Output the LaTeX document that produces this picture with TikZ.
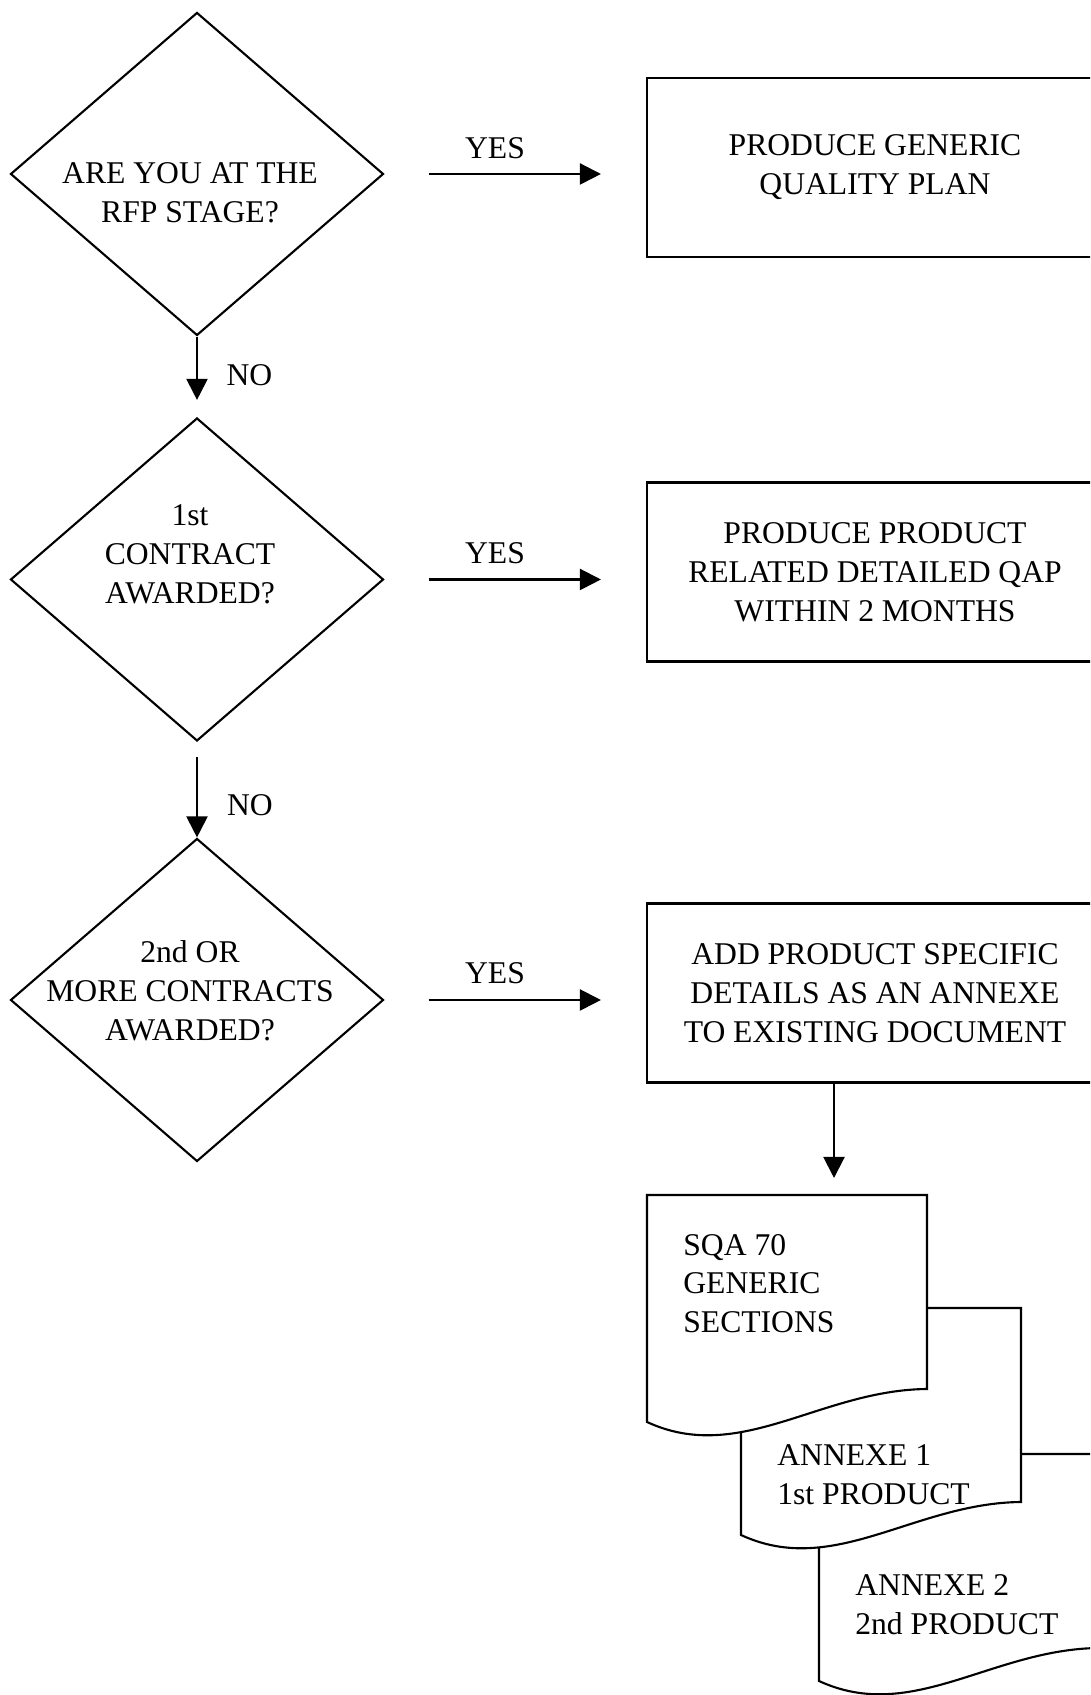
\documentclass[tikz,border=0pt]{standalone}
\usepackage{fontspec}
\setmainfont{Liberation Serif}
\usetikzlibrary{shapes.geometric,arrows.meta,calc}

\begin{document}
\begin{tikzpicture}[
  every node/.style={font=\fontsize{18}{22.1}\selectfont,inner sep=0pt},
  decision/.style={diamond,draw,line width=1.2pt,minimum width=7.46cm,minimum height=6.46cm,inner sep=0pt},
  action/.style={rectangle,draw,line width=1.2pt,minimum width=9.12cm,minimum height=3.58cm,align=center},
  txt/.style={align=center},
  doc/.style={draw,fill=white,line width=1.2pt},
  flow/.style={line width=1.2pt,-{Triangle[length=12pt,width=12pt]}}
]
\useasboundingbox (0,0) rectangle (21.8,33.9);
\clip (0,0) rectangle (21.8,33.9);

% ------------------------------------------------------------
% Decisions on the left (text set a little off centre)
% ------------------------------------------------------------
\node[decision] (rfp) at (3.94,30.42) {};
\node[txt] (rfptext) at (3.80,30.04) {ARE YOU AT THE\\RFP STAGE?};

\node[decision] (first) at (3.94,22.31) {};
\node[txt] (firsttext) at (3.80,22.82) {1st\\CONTRACT\\AWARDED?};

\node[decision] (more) at (3.94,13.90) {};
\node[txt] (moretext) at (3.80,14.08) {2nd OR\\MORE CONTRACTS\\AWARDED?};

% ------------------------------------------------------------
% Actions on the right (run past the page edge)
% ------------------------------------------------------------
\node[action] (genplan) at (17.50,30.55) {PRODUCE GENERIC\\QUALITY PLAN};
\node[action] (detqap) at (17.50,22.46) {PRODUCE PRODUCT\\RELATED DETAILED QAP\\WITHIN 2 MONTHS};
\node[action] (addspec) at (17.50,14.04) {ADD PRODUCT SPECIFIC\\DETAILS AS AN ANNEXE\\TO EXISTING DOCUMENT};

% ------------------------------------------------------------
% YES / NO arrows
% ------------------------------------------------------------
\draw[flow] ($(rfp.east)+(0.88,0)$) -- ($(rfp.east -| genplan.west)+(-0.9,0)$);
\node (yes1) at (9.9,30.94) {YES};
\draw[flow] ($(first.east)+(0.88,0)$) -- ($(first.east -| detqap.west)+(-0.9,0)$);
\node (yes2) at (9.9,22.84) {YES};
\draw[flow] ($(more.east)+(0.88,0)$) -- ($(more.east -| addspec.west)+(-0.9,0)$);
\node (yes3) at (9.9,14.44) {YES};

\draw[flow] (rfp.south) -- ($(first.north)+(0,0.34)$);
\node (no1) at (4.99,26.40) {NO};
\draw[flow] ($(first.south)+(0,-0.30)$) -- (more.north);
\node (no2) at (5.00,17.80) {NO};

% ------------------------------------------------------------
% Stack of documents, drawn back to front
% ------------------------------------------------------------
\foreach \docx/\docy in {16.38/4.82, 14.82/7.74, 12.94/10.00}
  \filldraw[doc,shift={(\docx,\docy)}] (0,0) -- (5.6,0) -- (5.6,-3.88)
    .. controls (3.46,-3.90) and (1.86,-5.40) .. (0,-4.54) -- cycle;

\coordinate (docin) at (16.68,10.00);
\draw[flow] (addspec.south -| docin) -- ($(docin)+(0,0.34)$);

\node[anchor=west,align=left] (sqatext) at (13.66,8.23) {SQA 70\\GENERIC\\SECTIONS};
\node[anchor=west,align=left] (annexe1) at (15.54,4.40) {ANNEXE 1\\1st PRODUCT};
\node[anchor=west,align=left] (annexe2) at (17.10,1.80) {ANNEXE 2\\2nd PRODUCT};

\end{tikzpicture}
\end{document}
